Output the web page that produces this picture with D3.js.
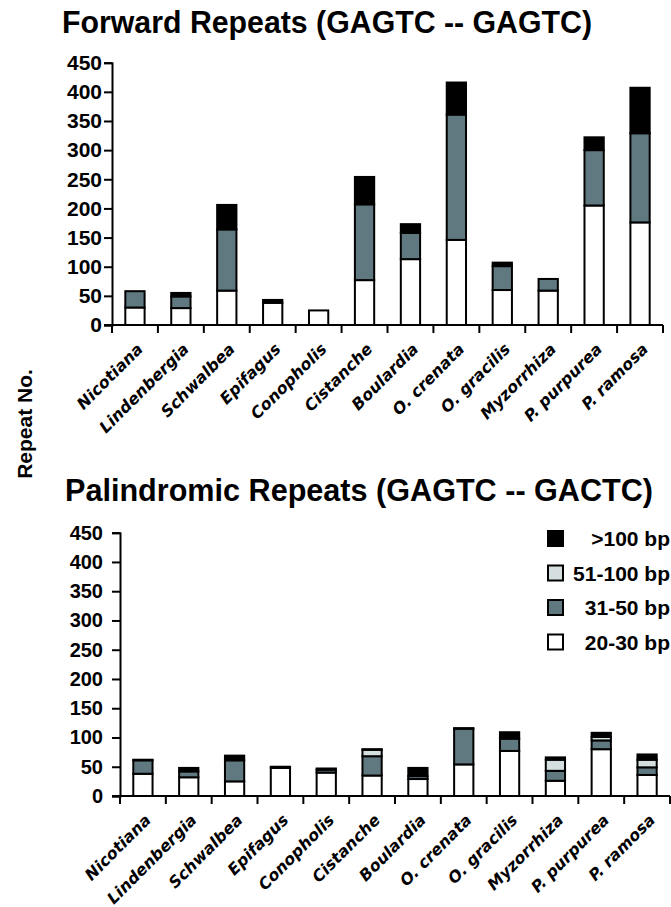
<!DOCTYPE html>
<html>
<head>
<meta charset="utf-8">
<script src="https://cdn.jsdelivr.net/npm/d3@7"></script>
<style>
  body { margin: 0; background: #fff; }
  svg { display: block; }
</style>
</head>
<body>
<div id="chart"></div>
<script>
// data
const species = ["Nicotiana", "Lindenbergia", "Schwalbea", "Epifagus", "Conopholis", "Cistanche",
  "Boulardia", "O. crenata", "O. gracilis", "Myzorrhiza", "P. purpurea", "P. ramosa"];
const classes = ["20-30 bp", "31-50 bp", "51-100 bp", ">100 bp"];

const fwd_20_30  = [30, 29, 59, 38, 25, 77, 113, 146, 60, 59, 205, 176];
const fwd_31_50  = [28, 20, 105, 0, 0, 130, 45, 215, 41, 20, 95, 153];
const fwd_51_100 = [0, 0, 0, 0, 0, 0, 0, 0, 0, 0, 0, 0];
const fwd_100    = [0, 6, 42, 5, 0, 47, 15, 55, 6, 0, 22, 78];

const pal_20_30  = [38, 32, 25, 48, 40, 35, 29, 54, 77, 26, 80, 36];
const pal_31_50  = [23, 10, 36, 0, 5, 33, 5, 61, 21, 17, 15, 13];
const pal_51_100 = [0, 0, 0, 0, 0, 11, 0, 0, 0, 19, 6, 13];
const pal_100    = [1, 6, 8, 2, 2, 1, 14, 1, 11, 4, 7, 9];

const yTicks = [0, 50, 100, 150, 200, 250, 300, 350, 400, 450];
const colors = ["#ffffff", "#607880", "#d5dfe0", "#000000"];

const width = 671, height = 907;

const svg = d3.select("#chart")
  .append("svg")
  .attr("width", width)
  .attr("height", height)
  .style("font-family", "'Liberation Sans', Arial, sans-serif");

function buildRows(series) {
  return species.map((s, i) => {
    const row = { species: s };
    classes.forEach((c, k) => { row[c] = series[k][i]; });
    return row;
  });
}

function panel(opts) {
  const rows = buildRows(opts.series);

  const x = d3.scaleBand()
    .domain(species)
    .range([opts.x0, opts.x1])
    .paddingInner(0.58)
    .paddingOuter(0.29);

  const y = d3.scaleLinear()
    .domain([0, 450])
    .range([opts.yBase, opts.yTop]);

  const stacked = d3.stack().keys(classes)(rows);

  const g = svg.append("g");

  // title
  g.append("text")
    .attr("x", opts.titleX)
    .attr("y", opts.titleY)
    .attr("font-size", 31)
    .attr("font-weight", "bold")
    .attr("textLength", opts.titleLen)
    .attr("lengthAdjust", "spacingAndGlyphs")
    .text(opts.title);

  // bars
  g.append("g")
    .selectAll("g")
    .data(stacked)
    .enter().append("g")
    .attr("fill", (d, i) => colors[i])
    .selectAll("rect")
    .data(d => d.filter(p => p[1] - p[0] > 0))
    .enter().append("rect")
    .attr("x", d => x(d.data.species))
    .attr("y", d => y(d[1]))
    .attr("width", x.bandwidth())
    .attr("height", d => y(d[0]) - y(d[1]))
    .attr("stroke", "#000")
    .attr("stroke-width", 2);

  // y axis
  const yAxis = g.append("g")
    .attr("transform", `translate(${opts.x0},0)`)
    .call(d3.axisLeft(y).tickValues(yTicks).tickSize(8).tickPadding(opts.yPad));
  yAxis.select(".domain").attr("stroke-width", 2);
  yAxis.selectAll(".tick line").attr("stroke-width", 2);
  yAxis.selectAll("text")
    .attr("font-size", opts.tickFont)
    .attr("font-weight", "bold")
    .attr("font-family", "'Liberation Sans', Arial, sans-serif")
    .attr("fill", "#000");

  // x axis: ticks between categories
  const step = x.step();
  const bounds = d3.range(species.length + 1).map(i => opts.x0 + i * step);
  g.append("line")
    .attr("x1", opts.x0 - 8).attr("x2", opts.x1)
    .attr("y1", opts.yBase).attr("y2", opts.yBase)
    .attr("stroke", "#000").attr("stroke-width", 2);
  g.append("g")
    .selectAll("line")
    .data(bounds)
    .enter().append("line")
    .attr("x1", d => d).attr("x2", d => d)
    .attr("y1", opts.yBase).attr("y2", opts.yBase + 8)
    .attr("stroke", "#000").attr("stroke-width", 2);

  // category labels
  g.append("g")
    .selectAll("text")
    .data(species)
    .enter().append("text")
    .attr("transform", d => `translate(${x(d) + x.bandwidth() / 2 + 9},${opts.yBase + 25}) rotate(-45)`)
    .attr("text-anchor", "end")
    .attr("font-family", "'DejaVu Sans', sans-serif")
    .attr("font-style", "italic")
    .attr("font-weight", "bold")
    .attr("font-size", 16)
    .text(d => d);
}

panel({
  title: "Forward Repeats (GAGTC -- GAGTC)",
  titleX: 62, titleY: 33, titleLen: 530,
  series: [fwd_20_30, fwd_31_50, fwd_51_100, fwd_100],
  x0: 112, x1: 663, yBase: 325, yTop: 62.7,
  yPad: 2, tickFont: 21
});

panel({
  title: "Palindromic Repeats (GAGTC -- GACTC)",
  titleX: 65, titleY: 501, titleLen: 588,
  series: [pal_20_30, pal_31_50, pal_51_100, pal_100],
  x0: 120, x1: 670, yBase: 796, yTop: 532.7,
  yPad: 9, tickFont: 20
});

// y axis title shared by both panels
svg.append("text")
  .attr("transform", "translate(32,424) rotate(-90)")
  .attr("text-anchor", "middle")
  .attr("font-size", 21)
  .attr("font-weight", "bold")
  .text("Repeat No.");

// legend (top class first)
const legendKeys = classes.slice().reverse();
const legend = svg.append("g").attr("transform", "translate(548,531)");
legend.selectAll("rect")
  .data(legendKeys)
  .enter().append("rect")
  .attr("x", 0)
  .attr("y", (d, i) => i * 34.5)
  .attr("width", 15)
  .attr("height", 15)
  .attr("fill", d => colors[classes.indexOf(d)])
  .attr("stroke", "#000")
  .attr("stroke-width", 2);
legend.selectAll("text")
  .data(legendKeys)
  .enter().append("text")
  .attr("x", 122)
  .attr("y", (d, i) => i * 34.5 + 15)
  .attr("text-anchor", "end")
  .attr("font-size", 21)
  .attr("font-weight", "bold")
  .text(d => d);
</script>
</body>
</html>
